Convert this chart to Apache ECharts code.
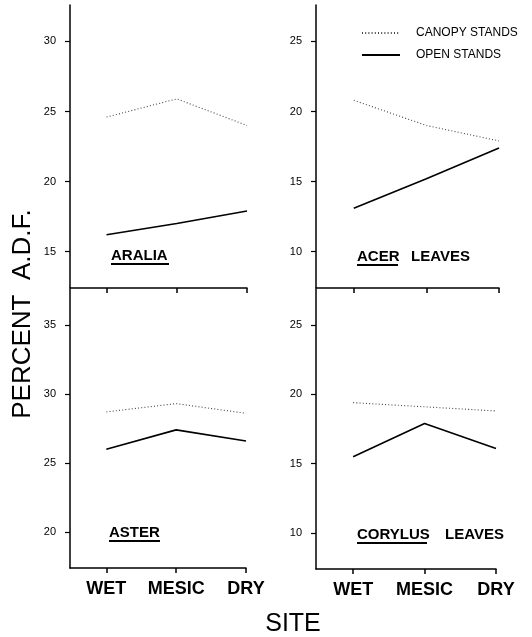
<!DOCTYPE html>
<html>
<head>
<meta charset="utf-8">
<title>Percent A.D.F. by site</title>
<script src="https://cdn.jsdelivr.net/npm/echarts@6/dist/echarts.min.js"></script>
<style>
html, body { margin: 0; padding: 0; background: #fff; }
#chart { width: 532px; height: 637px; }
</style>
</head>
<body>
<div id="chart"></div>
<script>
var categories = ['WET', 'MESIC', 'DRY'];
var seriesNames = ['CANOPY STANDS', 'OPEN STANDS'];

// percent A.D.F., order WET, MESIC, DRY
var araliaCanopy = [24.6, 25.9, 24.0];
var araliaOpen = [16.2, 17.0, 17.9];
var acerCanopy = [20.8, 19.0, 17.9];
var acerOpen = [13.1, 15.2, 17.4];
var asterCanopy = [28.7, 29.3, 28.6];
var asterOpen = [26.0, 27.4, 26.6];
var corylusCanopy = [19.4, 19.1, 18.8];
var corylusOpen = [15.5, 17.9, 16.1];

// y tick labels of each panel
var araliaTicks = [15, 20, 25, 30];
var acerTicks = [10, 15, 20, 25];
var asterTicks = [20, 25, 30, 35];
var corylusTicks = [10, 15, 20, 25];

var FONT = '"Liberation Sans", Arial, sans-serif';

// grid boxes: aralia, acer, aster, corylus
var grids = [
	{left: 70, top: 5, width: 177, height: 283},
	{left: 316, top: 5, width: 183, height: 283},
	{left: 70, top: 289, width: 176, height: 279},
	{left: 316, top: 289, width: 180, height: 280}
];
var yRanges = [[12.4, 32.6], [7.4, 27.6], [17.4, 37.6], [7.4, 27.6]];
var yTicks = [araliaTicks, acerTicks, asterTicks, corylusTicks];
var panels = [
	[araliaCanopy, araliaOpen],
	[acerCanopy, acerOpen],
	[asterCanopy, asterOpen],
	[corylusCanopy, corylusOpen]
];

function toPoints(values){
	var pts = [];
	for(var i = 0; i < values.length; i++){
		pts.push([i + 1, values[i]]);
	}
	return pts;
}

var xAxes = [], yAxes = [], series = [];
for(var g = 0; g < grids.length; g++){
	var bottomRow = g >= 2;
	xAxes.push({
		gridIndex: g,
		type: 'value',
		min: 0.48,
		max: 3,
		splitLine: {show: false},
		axisLine: {show: true, lineStyle: {color: '#000', width: 1.5}},
		axisTick: {show: true, customValues: [1, 2, 3], length: 5, lineStyle: {color: '#000', width: 1.5}},
		axisLabel: {
			show: bottomRow,
			customValues: [1, 2, 3],
			margin: 12,
			color: '#000',
			fontFamily: FONT,
			fontWeight: 'bold',
			fontSize: 18,
			formatter: function(v){ return categories[Math.round(v) - 1] || ''; }
		}
	});
	yAxes.push({
		gridIndex: g,
		type: 'value',
		min: yRanges[g][0],
		max: yRanges[g][1],
		splitLine: {show: false},
		axisLine: {show: true, lineStyle: {color: '#000', width: 1.5}},
		axisTick: {show: true, customValues: yTicks[g], length: 5, lineStyle: {color: '#000', width: 1.2}},
		axisLabel: {
			customValues: yTicks[g],
			margin: 14,
			color: '#000',
			fontFamily: FONT,
			fontSize: 11
		}
	});
	series.push({
		name: seriesNames[0],
		type: 'line',
		xAxisIndex: g,
		yAxisIndex: g,
		symbol: 'none',
		silent: true,
		data: toPoints(panels[g][0]),
		itemStyle: {color: '#444'},
		lineStyle: {color: '#444', width: 1.1, type: [1, 2.2]}
	});
	series.push({
		name: seriesNames[1],
		type: 'line',
		xAxisIndex: g,
		yAxisIndex: g,
		symbol: 'none',
		silent: true,
		data: toPoints(panels[g][1]),
		itemStyle: {color: '#000'},
		lineStyle: {color: '#000', width: 1.6, type: 'solid'}
	});
}

// panel captions, underlined part first
function caption(x, y, word, underlineWidth, rest, restX){
	var els = [
		{type: 'text', x: x, y: y, style: {text: word, font: 'bold 15px ' + FONT, fill: '#000', verticalAlign: 'middle'}},
		{type: 'line', shape: {x1: x, y1: y + 8, x2: x + underlineWidth, y2: y + 8}, style: {stroke: '#000', lineWidth: 1.8}}
	];
	if(rest){
		els.push({type: 'text', x: restX, y: y, style: {text: rest, font: 'bold 15px ' + FONT, fill: '#000', verticalAlign: 'middle'}});
	}
	return els;
}

var graphics = [];
graphics = graphics.concat(caption(111, 256, 'ARALIA', 58));
graphics = graphics.concat(caption(357, 257, 'ACER', 41, 'LEAVES', 411));
graphics = graphics.concat(caption(109, 533, 'ASTER', 51));
graphics = graphics.concat(caption(357, 535, 'CORYLUS', 70, 'LEAVES', 445));
graphics.push({
	type: 'text', x: 23, y: 314, rotation: Math.PI / 2,
	style: {text: 'PERCENT  A.D.F.', font: '26px ' + FONT, fill: '#000', align: 'center', verticalAlign: 'middle'}
});
graphics.push({
	type: 'text', x: 293, y: 624,
	style: {text: 'SITE', font: '25px ' + FONT, fill: '#000', align: 'center', verticalAlign: 'middle'}
});

var chart = echarts.init(document.getElementById('chart'));
chart.setOption({
	backgroundColor: '#fff',
	animation: false,
	grid: grids,
	xAxis: xAxes,
	yAxis: yAxes,
	legend: {
		data: seriesNames,
		orient: 'vertical',
		left: 356,
		top: 22,
		itemWidth: 38,
		itemHeight: 14,
		itemGap: 10,
		selectedMode: false,
		itemStyle: {opacity: 0},
		textStyle: {color: '#000', fontFamily: FONT, fontSize: 12, padding: [0, 0, 0, 11]}
	},
	series: series,
	graphic: graphics
});
</script>
</body>
</html>
